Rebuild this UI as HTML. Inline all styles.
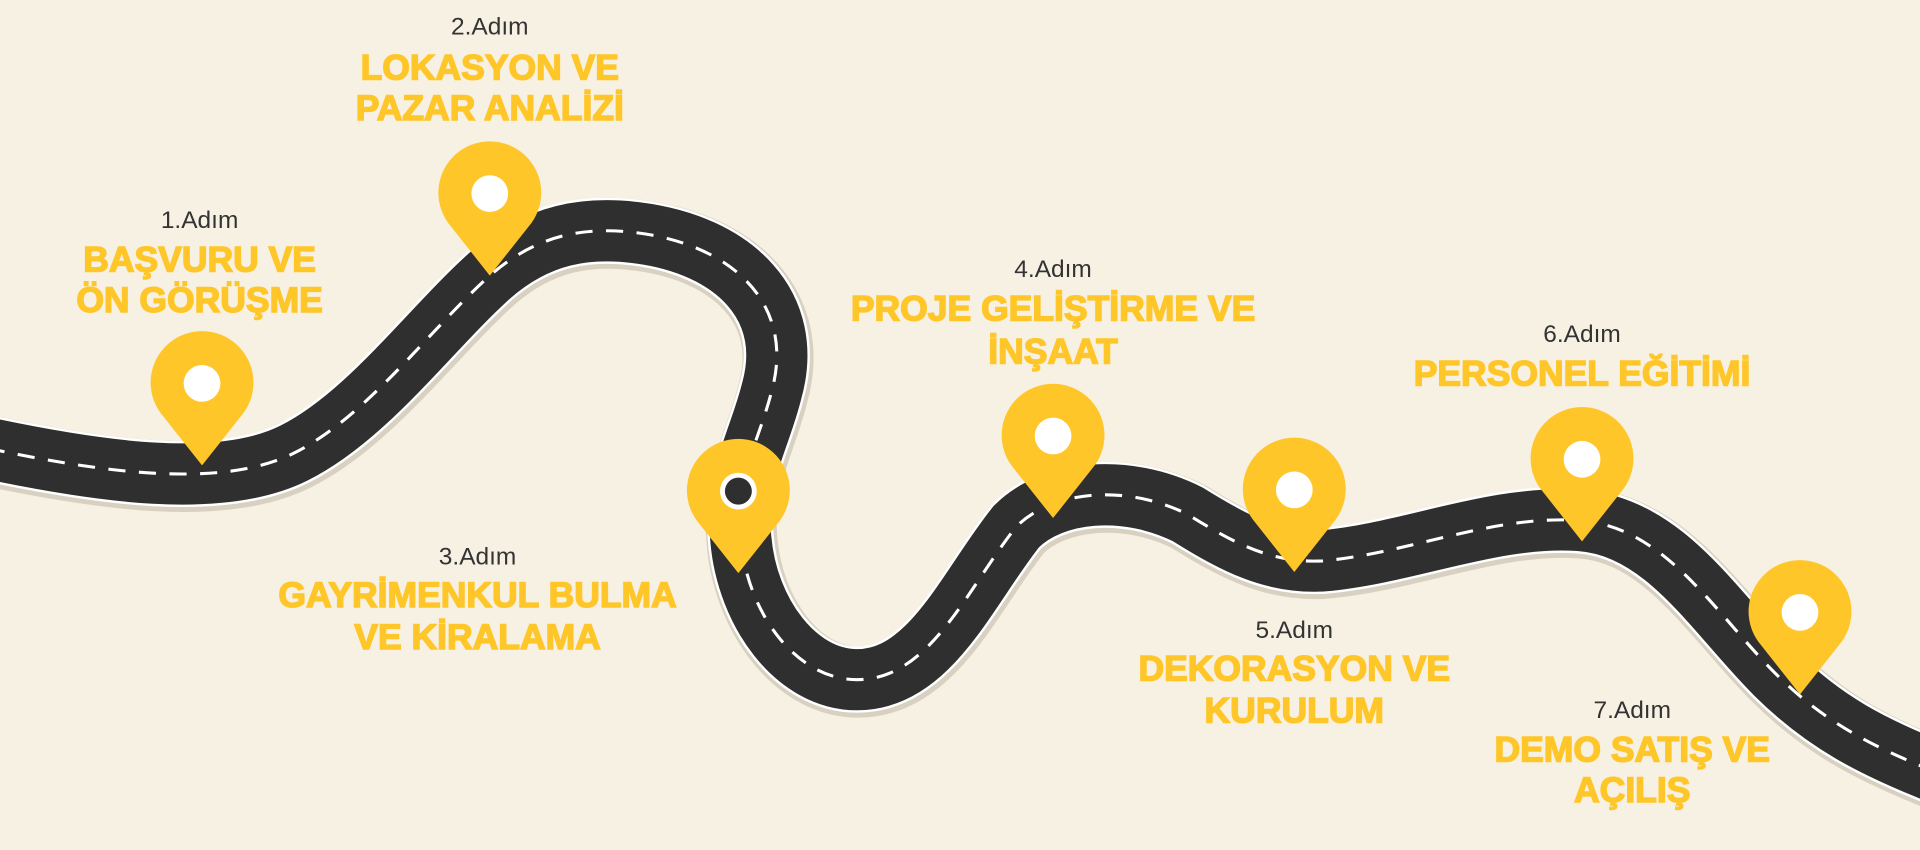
<!DOCTYPE html>
<html><head><meta charset="utf-8"><style>
html,body{margin:0;padding:0;background:#F7F1E3;}
svg{display:block;}
.s{font-family:"Liberation Sans",sans-serif;font-size:20px;fill:#333;text-anchor:middle;dominant-baseline:central;}
.t{font-family:"Liberation Sans",sans-serif;font-size:29px;font-weight:bold;fill:#FFC629;stroke:#FFC629;stroke-width:1.2;text-anchor:middle;dominant-baseline:central;}
</style></head><body>
<svg width="1920" height="850" viewBox="0 0 1568 694" xmlns="http://www.w3.org/2000/svg">
<rect width="1568" height="694" fill="#F7F1E3"/>
<defs>
<path id="road" d="M -10 366 C 80 385, 180 400, 240 370 C 300 340, 350 270, 400 225 C 440 190, 480 185, 520 190 C 600 200, 650 250, 630 320 C 620 360, 600 390, 605 440 C 610 500, 650 555, 700 555 C 760 555, 790 480, 830 430 C 860 400, 920 395, 970 420 C 1010 445, 1040 460, 1080 458 C 1150 452, 1220 420, 1290 425 C 1360 430, 1400 500, 1450 550 C 1490 590, 1530 610, 1580 630"/>
</defs>
<use href="#road" fill="none" stroke="#d8d0c0" stroke-width="58" transform="translate(1,2)"/>
<use href="#road" fill="none" stroke="#ffffff" stroke-width="54"/>
<use href="#road" fill="none" stroke="#2f2f2f" stroke-width="50"/>
<use href="#road" fill="none" stroke="#ffffff" stroke-width="2.5" stroke-dasharray="14 11"/>
<g fill="#FFC629">
<path d="M165 380 L131 337 A42 42 0 1 1 199 337 Z"/>
<path d="M400 225 L366 182 A42 42 0 1 1 434 182 Z"/>
<path d="M603 468 L569 425 A42 42 0 1 1 637 425 Z"/>
<path d="M860 423 L826 380 A42 42 0 1 1 894 380 Z"/>
<path d="M1057 467 L1023 424 A42 42 0 1 1 1091 424 Z"/>
<path d="M1292 442 L1258 399 A42 42 0 1 1 1326 399 Z"/>
<path d="M1470 567 L1436 524 A42 42 0 1 1 1504 524 Z"/>
</g>
<g fill="#ffffff">
<circle cx="165" cy="313" r="15"/><circle cx="400" cy="158" r="15"/><circle cx="603" cy="401" r="15"/>
<circle cx="860" cy="356" r="15"/><circle cx="1057" cy="400" r="15"/><circle cx="1292" cy="375" r="15"/><circle cx="1470" cy="500" r="15"/>
</g>
<circle cx="603" cy="401" r="11" fill="#2f2f2f"/>
<text class="s" x="163" y="180">1.Adım</text>
<text class="t" x="163" y="212">BAŞVURU VE</text>
<text class="t" x="163" y="245">ÖN GÖRÜŞME</text>
<text class="s" x="400" y="22">2.Adım</text>
<text class="t" x="400" y="55">LOKASYON VE</text>
<text class="t" x="400" y="88">PAZAR ANALİZİ</text>
<text class="s" x="390" y="455">3.Adım</text>
<text class="t" x="390" y="486">GAYRİMENKUL BULMA</text>
<text class="t" x="390" y="520">VE KİRALAMA</text>
<text class="s" x="860" y="220">4.Adım</text>
<text class="t" x="860" y="252">PROJE GELİŞTİRME VE</text>
<text class="t" x="860" y="287">İNŞAAT</text>
<text class="s" x="1057" y="515">5.Adım</text>
<text class="t" x="1057" y="546">DEKORASYON VE</text>
<text class="t" x="1057" y="580">KURULUM</text>
<text class="s" x="1292" y="273">6.Adım</text>
<text class="t" x="1292" y="305">PERSONEL EĞİTİMİ</text>
<text class="s" x="1333" y="580">7.Adım</text>
<text class="t" x="1333" y="612">DEMO SATIŞ VE</text>
<text class="t" x="1333" y="645">AÇILIŞ</text>
</svg>
</body></html>
